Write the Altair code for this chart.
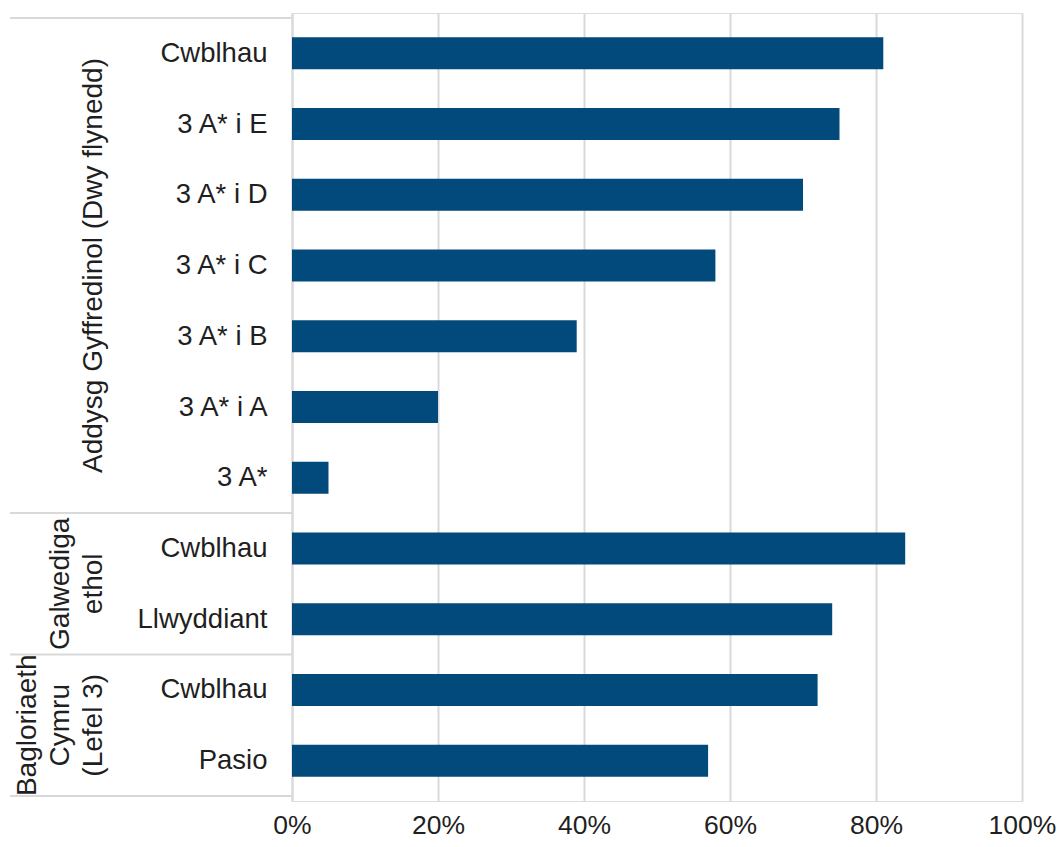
import altair as alt
import pandas as pd

# Data
row_labels = ["Cwblhau", "3 A* i E", "3 A* i D", "3 A* i C", "3 A* i B", "3 A* i A", "3 A*",
              "Cwblhau", "Llwyddiant", "Cwblhau", "Pasio"]
row_values = [81, 75, 70, 58, 39, 20, 5, 84, 74, 72, 57]
group_names = ["Addysg Gyffredinol (Dwy flynedd)", "Galwediga\nethol", "Bagloriaeth\nCymru\n(Lefel 3)"]
group_first_row = [0, 7, 9]
group_last_row = [6, 8, 10]
x_ticks = [0, 20, 40, 60, 80, 100]

FONT = "Liberation Sans"
FS = 27.5
XFS = 26.5
GFS = 28
TEXT = "#1f1f1f"
GRID = "#d9d9d9"
BAR = "#034A7C"
LINE_H = 33

bars_df = pd.DataFrame({"idx": list(range(len(row_labels))), "label": row_labels, "value": row_values})
dividers_df = pd.DataFrame({"pos": [-0.5] + [b + 0.5 for b in group_last_row]})

n = len(row_labels)
label_array = "[" + ",".join("'" + s + "'" for s in row_labels) + "]"

yscale = alt.Scale(domain=[-0.5, n - 0.5], reverse=True, nice=False, zero=False)
xscale = alt.Scale(domain=[0, 100], nice=False)

bars = alt.Chart(bars_df).mark_bar(orient="horizontal", size=32, color=BAR).encode(
    x=alt.X("value:Q", scale=xscale,
            axis=alt.Axis(values=x_ticks, labelExpr="datum.value + '%'", title=None,
                          domain=False, ticks=False, grid=True, gridColor=GRID, gridWidth=2,
                          labelFlush=False, labelFont=FONT, labelFontSize=XFS,
                          labelColor=TEXT, labelPadding=11)),
    y=alt.Y("idx:Q", scale=yscale,
            axis=alt.Axis(values=list(range(n)), labelExpr=label_array + "[datum.value]",
                          title=None, grid=False, ticks=False, domain=True,
                          domainColor=GRID, domainWidth=2,
                          labelFont=FONT, labelFontSize=FS, labelColor=TEXT, labelPadding=25)),
)

dividers = alt.Chart(dividers_df).mark_rule(color=GRID, strokeWidth=2).encode(
    y=alt.Y("pos:Q", scale=yscale),
    x=alt.value(-282),
    x2=alt.value(0),
)

layers = [dividers, bars]
for name, a, b in zip(group_names, group_first_row, group_last_row):
    nlines = name.count("\n") + 1
    gdf = pd.DataFrame({"name": [name], "mid": [(a + b) / 2]})
    layers.append(
        alt.Chart(gdf).mark_text(
            angle=270, align="center", baseline="bottom", font=FONT, fontSize=GFS,
            color=TEXT, lineBreak="\n", lineHeight=LINE_H,
        ).encode(
            y=alt.Y("mid:Q", scale=yscale),
            x=alt.value(-184 - (nlines - 1) * LINE_H),
            text="name:N",
        )
    )

chart = alt.layer(*layers).properties(
    width=730, height=788,
    padding={"left": 284, "top": 5, "right": 34, "bottom": 38},
    autosize=alt.AutoSizeParams(type="none"),
).configure_view(stroke=None).configure(background="white")

chart.save("out.html", embed_options={"renderer": "svg", "actions": False})
